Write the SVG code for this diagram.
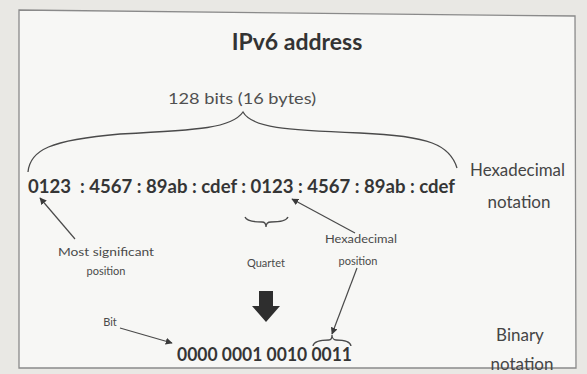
<svg xmlns="http://www.w3.org/2000/svg" width="587" height="374" viewBox="0 0 587 374">
<defs>
<marker id="ah" viewBox="0 0 10 10" refX="9" refY="5" markerWidth="7" markerHeight="7" orient="auto-start-reverse" markerUnits="userSpaceOnUse">
<path d="M0,0 L10,5 L0,10 z" fill="#3a3a3a"/>
</marker>
<style>
text{font-family:Lato,"Liberation Sans",sans-serif;fill:#3c3c3c}
.title{font-size:23px;font-weight:bold;fill:#333}
.lbl{font-size:15px;fill:#505050}
.big{font-size:18px;font-weight:bold;fill:#353535}
.side{font-size:17px;fill:#454545}
.small{font-size:11px;fill:#4a4a4a}
.ln{fill:none;stroke:#4a4a4a;stroke-width:1.3}
.ar{fill:none;stroke:#4a4a4a;stroke-width:1.2;marker-end:url(#ah)}
</style>
</defs>
<rect width="587" height="374" fill="#e9e8e4"/>
<g id="frame">
<path d="M19,10 L575,16 L576,368 L19,368 Z" fill="#f7f7f5" stroke="#8a8a8a" stroke-width="1.3"/>
</g>
<g id="title"><text class="title" x="297" y="50" text-anchor="middle">IPv6 address</text></g>
<g id="bits"><text class="lbl" x="168" y="104" textLength="148" lengthAdjust="spacingAndGlyphs">128 bits (16 bytes)</text></g>
<g id="hex"><text class="big" x="28" y="193" textLength="427" lengthAdjust="spacingAndGlyphs" xml:space="preserve">0123  : 4567 : 89ab : cdef : 0123 : 4567 : 89ab : cdef</text></g>
<g id="hexnote"><text class="side" x="470" y="176" textLength="95" lengthAdjust="spacingAndGlyphs">Hexadecimal</text><text class="side" x="519" y="208" text-anchor="middle">notation</text></g>
<g id="msp"><text class="small" x="106" y="256" text-anchor="middle" textLength="96" lengthAdjust="spacingAndGlyphs">Most significant</text><text class="small" x="106" y="275" text-anchor="middle">position</text></g>
<g id="quartet"><text class="small" x="266" y="267" text-anchor="middle">Quartet</text></g>
<g id="hexpos"><text class="small" x="361" y="243" text-anchor="middle" textLength="72" lengthAdjust="spacingAndGlyphs">Hexadecimal</text><text class="small" x="358" y="265" text-anchor="middle">position</text></g>
<g id="bit"><text class="small" x="110" y="326" text-anchor="middle">Bit</text></g>
<g id="bin"><text class="big" x="177" y="361" textLength="175" lengthAdjust="spacingAndGlyphs">0000 0001 0010 0011</text></g>
<g id="binnote"><text class="side" x="520" y="341" text-anchor="middle">Binary</text><text class="side" x="522" y="370" text-anchor="middle">notation</text></g>
<g id="connectors">
<path class="ln" d="M28,172 C30,150 50,140 120,134 C200,130 232,128 243,112 C252,128 285,130 360,133 C430,136 450,145 457,168"/>
<path class="ln" d="M245,217 C247,222 258,222 262,222 C265,222 266,224 266,227 C266,224 268,222 271,222 C275,222 286,222 288,217"/>
<path class="ln" d="M313,346 C314,340 326,340 329,340 C331,340 332,338 332,335 C332,338 334,340 336,340 C340,340 350,340 351,346"/>
<path class="ar" d="M75,239 L40,198"/>
<path class="ar" d="M355,233 L292,199"/>
<path class="ar" d="M120,328 L172,343"/>
<path class="ar" d="M357,268 L332,334"/>
<path d="M259,291 L273,291 L273,306 L280,306 L266,322 L252,306 L259,306 Z" fill="#2e2e2e"/>
</g>
</svg>
